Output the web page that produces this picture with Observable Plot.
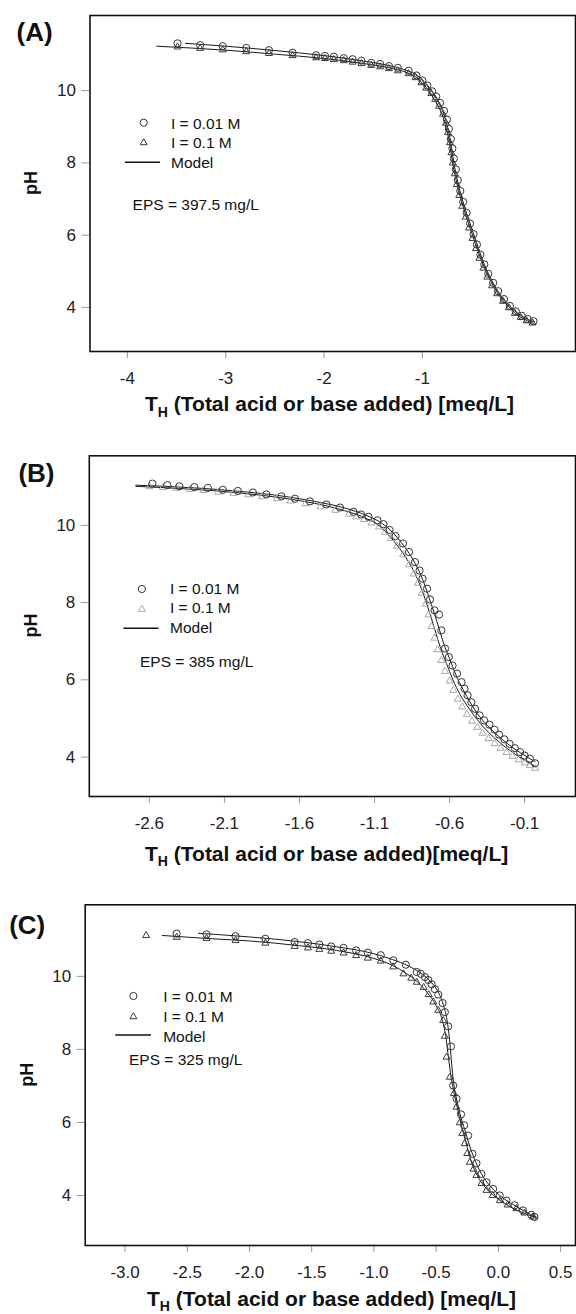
<!DOCTYPE html>
<html>
<head>
<meta charset="utf-8">
<script src="https://cdn.jsdelivr.net/npm/d3@7"></script>
<script src="https://cdn.jsdelivr.net/npm/@observablehq/plot@0.6"></script>
<style>
  html, body { margin: 0; padding: 0; background: #fff; }
  #root { width: 576px; }
  #root svg { display: block; }
</style>
</head>
<body>
<div id="root"></div>
<script>
// ---------------- DATA ----------------
const panelLabels = ["(A)", "(B)", "(C)"];
const seriesLabels = ["I = 0.01 M", "I = 0.1 M", "Model"];
const epsLabels = ["EPS = 397.5 mg/L", "EPS = 385 mg/L", "EPS = 325 mg/L"];
const xTitleTails = [" (Total acid or base added) [meq/L]", " (Total acid or base added)[meq/L]", " (Total acid or base added) [meq/L]"];
const yTicks = [4, 6, 8, 10];
const xTicksA = [-4, -3, -2, -1];
const xTicksB = [-2.6, -2.1, -1.6, -1.1, -0.6, -0.1];
const xTicksC = [-3.0, -2.5, -2.0, -1.5, -1.0, -0.5, 0.0, 0.5];

// Panel A  [T_H, pH]
const A_I001 = [[-3.49,11.31],[-3.26,11.26],[-3.03,11.23],[-2.79,11.18],[-2.56,11.12],[-2.32,11.05],[-2.08,10.98],[-1.99,10.96],[-1.90,10.94],[-1.80,10.90],[-1.71,10.87],[-1.62,10.83],[-1.52,10.77],[-1.43,10.74],[-1.34,10.68],[-1.25,10.63],[-1.14,10.55],[-1.06,10.42],[-1.00,10.28],[-0.95,10.14],[-0.90,9.98],[-0.86,9.84],[-0.82,9.66],[-0.78,9.44],[-0.75,9.20],[-0.73,8.94],[-0.71,8.66],[-0.695,8.40],[-0.68,8.12],[-0.66,7.82],[-0.64,7.52],[-0.615,7.22],[-0.585,6.92],[-0.55,6.62],[-0.515,6.32],[-0.48,6.03],[-0.445,5.74],[-0.41,5.46],[-0.37,5.19],[-0.33,4.93],[-0.28,4.68],[-0.23,4.45],[-0.17,4.23],[-0.11,4.04],[-0.05,3.89],[0.01,3.77],[0.07,3.68],[0.13,3.62]];
const A_I01 = [[-3.49,11.21],[-3.26,11.17],[-3.03,11.13],[-2.79,11.08],[-2.56,11.03],[-2.32,10.97],[-2.08,10.91],[-1.99,10.89],[-1.90,10.86],[-1.80,10.83],[-1.71,10.79],[-1.62,10.75],[-1.52,10.70],[-1.43,10.66],[-1.34,10.61],[-1.25,10.55],[-1.14,10.47],[-1.07,10.36],[-1.01,10.22],[-0.96,10.07],[-0.91,9.92],[-0.87,9.76],[-0.83,9.57],[-0.79,9.35],[-0.76,9.10],[-0.74,8.84],[-0.72,8.56],[-0.705,8.28],[-0.69,8.00],[-0.67,7.70],[-0.65,7.40],[-0.625,7.10],[-0.595,6.80],[-0.56,6.50],[-0.525,6.20],[-0.49,5.91],[-0.455,5.63],[-0.42,5.36],[-0.38,5.09],[-0.34,4.84],[-0.29,4.60],[-0.24,4.38],[-0.18,4.17],[-0.12,3.99],[-0.06,3.84],[0.00,3.72],[0.06,3.63],[0.12,3.57]];
const A_model001 = [[-3.41,11.31],[-3.0,11.23],[-2.5,11.11],[-2.0,10.97],[-1.6,10.82],[-1.3,10.67],[-1.15,10.55],[-1.05,10.42],[-0.98,10.25],[-0.92,10.05],[-0.87,9.83],[-0.82,9.60],[-0.78,9.35],[-0.75,9.05],[-0.72,8.70],[-0.70,8.35],[-0.68,8.00],[-0.655,7.65],[-0.625,7.30],[-0.59,6.95],[-0.55,6.60],[-0.50,6.20],[-0.45,5.80],[-0.40,5.40],[-0.34,5.00],[-0.27,4.62],[-0.19,4.28],[-0.10,4.00],[0.00,3.78],[0.08,3.66],[0.14,3.60]];
const A_model01 = [[-3.70,11.23],[-3.0,11.12],[-2.5,11.01],[-2.0,10.89],[-1.6,10.75],[-1.3,10.61],[-1.15,10.49],[-1.06,10.36],[-0.99,10.18],[-0.93,9.98],[-0.88,9.76],[-0.83,9.52],[-0.79,9.27],[-0.76,8.98],[-0.73,8.64],[-0.71,8.30],[-0.69,7.96],[-0.665,7.62],[-0.635,7.27],[-0.60,6.92],[-0.56,6.56],[-0.51,6.16],[-0.46,5.76],[-0.41,5.37],[-0.35,4.98],[-0.28,4.60],[-0.20,4.26],[-0.11,3.98],[-0.01,3.75],[0.07,3.63],[0.13,3.56]];

// Panel B
const B_I001 = [[-2.58,11.08],[-2.48,11.04],[-2.40,11.01],[-2.30,10.99],[-2.21,10.97],[-2.11,10.92],[-2.01,10.89],[-1.91,10.85],[-1.82,10.80],[-1.72,10.75],[-1.63,10.69],[-1.53,10.62],[-1.42,10.54],[-1.33,10.46],[-1.24,10.35],[-1.19,10.28],[-1.14,10.22],[-1.08,10.13],[-1.04,10.03],[-1.00,9.88],[-0.96,9.72],[-0.91,9.53],[-0.87,9.31],[-0.83,9.05],[-0.80,8.83],[-0.78,8.62],[-0.75,8.36],[-0.73,8.08],[-0.70,7.80],[-0.67,7.69],[-0.655,7.28],[-0.63,6.81],[-0.605,6.59],[-0.58,6.37],[-0.55,6.16],[-0.52,5.94],[-0.50,5.77],[-0.48,5.60],[-0.455,5.42],[-0.43,5.25],[-0.40,5.08],[-0.37,4.95],[-0.335,4.84],[-0.30,4.71],[-0.27,4.58],[-0.235,4.46],[-0.20,4.34],[-0.165,4.23],[-0.13,4.13],[-0.10,4.04],[-0.065,3.96],[-0.03,3.84]];
const B_I01 = [[-2.60,11.00],[-2.51,10.98],[-2.42,10.96],[-2.33,10.93],[-2.24,10.90],[-2.14,10.86],[-2.04,10.83],[-1.94,10.79],[-1.85,10.74],[-1.75,10.69],[-1.66,10.63],[-1.56,10.56],[-1.46,10.48],[-1.36,10.39],[-1.27,10.29],[-1.22,10.22],[-1.17,10.15],[-1.12,10.06],[-1.07,9.96],[-1.03,9.82],[-0.99,9.66],[-0.95,9.46],[-0.91,9.24],[-0.87,8.98],[-0.84,8.74],[-0.81,8.50],[-0.785,8.24],[-0.76,7.96],[-0.74,7.68],[-0.72,7.38],[-0.70,7.08],[-0.68,6.78],[-0.655,6.50],[-0.63,6.22],[-0.60,5.97],[-0.575,5.73],[-0.545,5.50],[-0.515,5.30],[-0.485,5.11],[-0.45,4.93],[-0.415,4.77],[-0.38,4.62],[-0.34,4.48],[-0.30,4.35],[-0.26,4.23],[-0.22,4.12],[-0.18,4.02],[-0.14,3.93],[-0.10,3.85],[-0.065,3.78],[-0.03,3.71]];
const B_model001 = [[-2.69,11.04],[-2.3,10.97],[-2.0,10.88],[-1.7,10.75],[-1.5,10.62],[-1.3,10.45],[-1.15,10.25],[-1.05,10.05],[-0.98,9.82],[-0.92,9.55],[-0.87,9.28],[-0.83,9.02],[-0.79,8.70],[-0.76,8.40],[-0.73,8.05],[-0.70,7.70],[-0.67,7.33],[-0.64,6.95],[-0.60,6.55],[-0.56,6.15],[-0.51,5.75],[-0.46,5.40],[-0.40,5.05],[-0.33,4.75],[-0.25,4.46],[-0.17,4.22],[-0.09,4.02],[-0.03,3.88]];
const B_model01 = [[-2.69,11.01],[-2.3,10.93],[-2.0,10.84],[-1.7,10.70],[-1.5,10.57],[-1.3,10.38],[-1.15,10.17],[-1.06,9.96],[-1.00,9.72],[-0.94,9.44],[-0.89,9.16],[-0.85,8.90],[-0.81,8.58],[-0.78,8.28],[-0.75,7.94],[-0.72,7.58],[-0.69,7.20],[-0.66,6.82],[-0.62,6.42],[-0.58,6.02],[-0.53,5.62],[-0.47,5.26],[-0.41,4.94],[-0.34,4.64],[-0.26,4.36],[-0.18,4.12],[-0.10,3.92],[-0.03,3.76]];

// Panel C
const C_I001 = [[-2.585,11.17],[-2.345,11.15],[-2.112,11.10],[-1.872,11.03],[-1.637,10.94],[-1.530,10.91],[-1.439,10.87],[-1.343,10.82],[-1.244,10.78],[-1.143,10.71],[-1.049,10.65],[-0.945,10.58],[-0.844,10.44],[-0.744,10.32],[-0.656,10.12],[-0.624,10.07],[-0.590,9.98],[-0.563,9.90],[-0.536,9.78],[-0.510,9.65],[-0.483,9.50],[-0.448,9.27],[-0.43,9.02],[-0.403,8.63],[-0.381,8.08],[-0.363,7.01],[-0.336,6.65],[-0.30,6.22],[-0.275,5.92],[-0.243,5.64],[-0.208,5.14],[-0.176,4.88],[-0.136,4.59],[-0.095,4.36],[-0.042,4.18],[0.011,4.00],[0.065,3.86],[0.131,3.73],[0.198,3.59],[0.265,3.47],[0.29,3.41]];
const C_I01 = [[-2.83,11.12],[-2.585,11.07],[-2.345,11.04],[-2.112,10.98],[-1.872,10.91],[-1.637,10.82],[-1.530,10.78],[-1.439,10.74],[-1.343,10.69],[-1.244,10.64],[-1.143,10.57],[-1.049,10.50],[-0.945,10.42],[-0.844,10.26],[-0.763,10.07],[-0.70,9.95],[-0.656,9.84],[-0.60,9.70],[-0.56,9.50],[-0.523,9.30],[-0.483,9.07],[-0.443,8.79],[-0.43,8.36],[-0.416,7.79],[-0.39,7.24],[-0.357,6.79],[-0.336,6.42],[-0.31,5.99],[-0.29,5.70],[-0.27,5.42],[-0.25,5.15],[-0.229,4.91],[-0.20,4.72],[-0.176,4.55],[-0.135,4.33],[-0.095,4.14],[-0.045,4.00],[0.011,3.86],[0.075,3.74],[0.145,3.64],[0.21,3.52],[0.278,3.41]];
const C_model001 = [[-2.41,11.18],[-2.0,11.08],[-1.6,10.95],[-1.3,10.81],[-1.0,10.62],[-0.85,10.46],[-0.72,10.28],[-0.62,10.08],[-0.54,9.84],[-0.48,9.55],[-0.44,9.20],[-0.41,8.75],[-0.39,8.20],[-0.375,7.60],[-0.36,7.10],[-0.34,6.70],[-0.31,6.25],[-0.27,5.80],[-0.23,5.35],[-0.18,4.90],[-0.12,4.50],[-0.05,4.20],[0.03,3.95],[0.12,3.75],[0.21,3.57],[0.31,3.40]];
const C_model01 = [[-2.70,11.12],[-2.3,11.03],[-2.0,10.97],[-1.6,10.84],[-1.3,10.71],[-1.0,10.49],[-0.85,10.30],[-0.74,10.08],[-0.65,9.85],[-0.57,9.55],[-0.50,9.20],[-0.45,8.80],[-0.42,8.30],[-0.40,7.75],[-0.38,7.25],[-0.355,6.80],[-0.33,6.40],[-0.30,5.95],[-0.26,5.45],[-0.22,4.95],[-0.17,4.55],[-0.10,4.20],[-0.02,3.95],[0.08,3.72],[0.18,3.55],[0.30,3.40]];

// ---------------- DRAWING ----------------
const FONT = "'Liberation Sans', Arial, Helvetica, sans-serif";
const rows = arr => arr.map(([x, y]) => ({x, y}));

const panels = [
  {
    label: panelLabels[0], eps: epsLabels[0], tail: xTitleTails[0],
    circles: A_I001, triangles: A_I01, m1: A_model001, m2: A_model01,
    height: 440, mt: 15, ml: 89.5, mb: 89,
    xDomain: [-4.38, 0.557], yDomain: [2.78, 12.08],
    xTicks: xTicksA, xFormat: d => String(d),
    triColor: "#3a3a3a",
    L: {lab: [16.6, 41], title: [145, 411], ph: [36.5, 183],
        sym: 143.7, c: 122.7, t: 141.7, line: [125, 160, 162.3], tx: 171, tb: [129, 148, 168], eps: [132.6, 210]}
  },
  {
    label: panelLabels[1], eps: epsLabels[1], tail: xTitleTails[1],
    circles: B_I001, triangles: B_I01, m1: B_model001, m2: B_model01,
    height: 435, mt: 15.3, ml: 88.8, mb: 79,
    xDomain: [-3.0, 0.239], yDomain: [2.98, 11.8],
    xTicks: xTicksB, xFormat: d => String(d),
    triColor: "#a8a8a8",
    L: {lab: [18.4, 41.5], title: [145, 420.5], ph: [36.5, 185.6],
        sym: 141.9, c: 149, t: 168.3, line: [123.4, 158.4, 188.3], tx: 170, tb: [154, 173, 193], eps: [140, 226.7]}
  },
  {
    label: panelLabels[2], eps: epsLabels[2], tail: xTitleTails[2],
    circles: C_I001, triangles: C_I01, m1: C_model001, m2: C_model01,
    height: 439, mt: 29.3, ml: 84.7, mb: 69,
    xDomain: [-3.32, 0.62], yDomain: [2.63, 11.96],
    xTicks: xTicksC, xFormat: d => d.toFixed(1),
    triColor: "#3a3a3a",
    L: {lab: [9.2, 58.5], title: [147, 430.5], ph: [33, 199.7],
        sym: 133.4, c: 121, t: 140.7, line: [115.3, 151, 160], tx: 163.2, tb: [126.5, 146.7, 166.7], eps: [129, 190]}
  }
];

const root = document.getElementById("root");

for (const p of panels) {
  const svg = Plot.plot({
    width: 576,
    height: p.height,
    marginTop: p.mt,
    marginLeft: p.ml,
    marginRight: 1,
    marginBottom: p.mb,
    style: {fontFamily: FONT, fontSize: "17px", color: "#222", background: "#fff", overflow: "visible"},
    x: {domain: p.xDomain},
    y: {domain: p.yDomain},
    marks: [
      Plot.axisX({ticks: p.xTicks, tickFormat: p.xFormat, tickSize: 7, tickPadding: 13, label: null, fontSize: 17}),
      Plot.axisY({ticks: yTicks, tickFormat: d => String(d), tickSize: 8, tickPadding: 6, label: null, fontSize: 17}),
      Plot.line(rows(p.m2), {x: "x", y: "y", stroke: "#1a1a1a", strokeWidth: 1, curve: "monotone-x"}),
      Plot.line(rows(p.m1), {x: "x", y: "y", stroke: "#1a1a1a", strokeWidth: 1, curve: "monotone-x"}),
      Plot.dot(rows(p.triangles), {x: "x", y: "y", symbol: "triangle", r: 2.6, stroke: p.triColor, fill: "none", strokeWidth: 1}),
      Plot.dot(rows(p.circles), {x: "x", y: "y", symbol: "circle", r: 3.6, stroke: "#333", fill: "none", strokeWidth: 1}),
      Plot.frame({stroke: "#111", strokeWidth: 1.6})
    ]
  });

  const s = d3.select(svg);
  s.selectAll('g[aria-label="x-axis tick"], g[aria-label="y-axis tick"]').attr("stroke", "#9a9a9a");

  const L = p.L;
  // panel label
  s.append("text").attr("x", L.lab[0]).attr("y", L.lab[1]).attr("text-anchor", "start")
    .attr("font-family", FONT).attr("font-size", 26).attr("font-weight", "bold").attr("fill", "#111")
    .text(p.label);
  // y title
  s.append("text").attr("transform", `translate(${L.ph[0]},${L.ph[1]}) rotate(-90)`)
    .attr("text-anchor", "middle")
    .attr("font-family", FONT).attr("font-size", 18).attr("font-weight", "bold").attr("fill", "#111")
    .text("pH");
  // x title with subscript
  const t = s.append("text").attr("x", L.title[0]).attr("y", L.title[1]).attr("text-anchor", "start")
    .attr("font-family", FONT).attr("font-size", 21).attr("font-weight", "bold").attr("fill", "#111");
  t.append("tspan").text("T");
  t.append("tspan").attr("dy", 5.5).attr("font-size", 14).text("H");
  t.append("tspan").attr("dy", -5.5).text(p.tail);

  // legend
  const g = s.append("g").attr("font-family", FONT).attr("font-size", 15.5).attr("fill", "#111").attr("text-anchor", "start");
  g.append("path").attr("transform", `translate(${L.sym},${L.c})`)
    .attr("d", d3.symbol(d3.symbolCircle, Math.PI * 3.6 * 3.6)()).attr("fill", "none").attr("stroke", "#333");
  g.append("path").attr("transform", `translate(${L.sym},${L.t + 1})`)
    .attr("d", d3.symbol(d3.symbolTriangle, Math.PI * 2.6 * 2.6)()).attr("fill", "none").attr("stroke", p.triColor);
  g.append("line").attr("x1", L.line[0]).attr("x2", L.line[1]).attr("y1", L.line[2]).attr("y2", L.line[2])
    .attr("stroke", "#111").attr("stroke-width", 1.5);
  seriesLabels.forEach((lab, i) => {
    g.append("text").attr("x", L.tx).attr("y", L.tb[i]).attr("text-anchor", "start").text(lab);
  });
  g.append("text").attr("x", L.eps[0]).attr("y", L.eps[1]).attr("text-anchor", "start").text(p.eps);

  root.appendChild(svg);
}
</script>
</body>
</html>
